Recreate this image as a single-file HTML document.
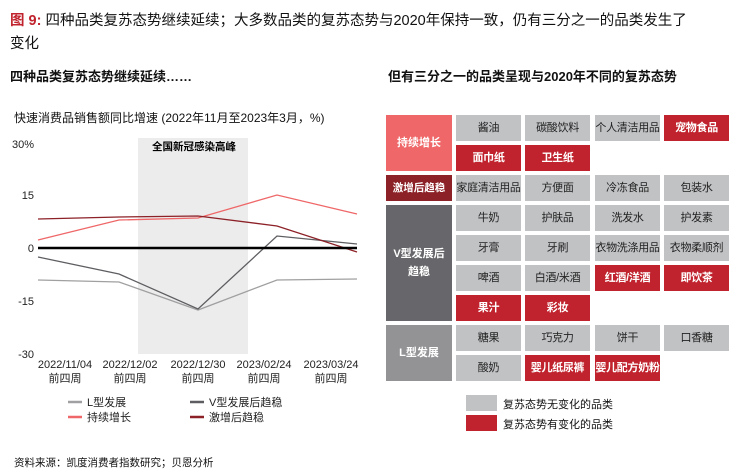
<!DOCTYPE html>
<html><head><meta charset="utf-8"><style>
*{margin:0;padding:0;box-sizing:border-box}
body{width:748px;height:472px;background:#fff;position:relative;overflow:hidden;font-family:"Liberation Sans","Noto Sans CJK SC",sans-serif;color:#111}
.a{position:absolute;white-space:nowrap}
.c{position:absolute;width:65px;height:26px;line-height:26px;text-align:center;font-size:11px;background:#c1c2c4;color:#222;letter-spacing:-0.3px}
.r{background:#c0232d;color:#fff;font-weight:bold}
.k{position:absolute;left:386px;width:66px;color:#fff;font-weight:bold;font-size:11px;display:flex;align-items:center;justify-content:center;text-align:center;line-height:18px}
</style></head><body>
<div class="a" style="left:10px;top:9px;font-size:14.5px"><span style="color:#c0232d;font-weight:bold">图 9:</span> 四种品类复苏态势继续延续；大多数品类的复苏态势与2020年保持一致，仍有三分之一的品类发生了</div>
<div class="a" style="left:10px;top:32px;font-size:14.5px">变化</div>
<div class="a" style="left:10px;top:66px;font-size:13px;font-weight:bold">四种品类复苏态势继续延续……</div>
<div class="a" style="left:388px;top:66px;font-size:13px;font-weight:bold">但有三分之一的品类呈现与2020年不同的复苏态势</div>
<div class="a" style="left:14px;top:109px;font-size:12px">快速消费品销售额同比增速 (2022年11月至2023年3月，%)</div>

<svg class="a" style="left:0;top:0" width="380" height="440" font-family="Liberation Sans, Noto Sans CJK SC, sans-serif">
<rect x="138" y="138" width="110" height="216" fill="#ececec"/>
<text x="194" y="150" font-size="10.5" font-weight="bold" text-anchor="middle">全国新冠感染高峰</text>
<g font-size="11" fill="#222" text-anchor="end">
<text x="34" y="148">30%</text><text x="34" y="199">15</text><text x="34" y="252">0</text><text x="34" y="305">-15</text><text x="34" y="358">-30</text></g>
<g fill="none" stroke-width="1.3">
<polyline points="38,280 119,282 198,310 277,280 357,279" stroke="#a0a0a2"/>
<polyline points="38,257 119,274 198,309 277,236 357,244" stroke="#5e5e62"/>
<polyline points="38,240 119,220 198,218 277,195 357,214" stroke="#ef6768"/>
<polyline points="38,219 119,217 198,216 277,226 357,252" stroke="#8c2127"/>
</g>
<line x1="38" y1="248" x2="357" y2="248" stroke="#000" stroke-width="2.5"/>
<g font-size="11" fill="#222" text-anchor="middle">
<text x="65" y="368">2022/11/04</text><text x="65" y="382">前四周</text>
<text x="130" y="368">2022/12/02</text><text x="130" y="382">前四周</text>
<text x="198" y="368">2022/12/30</text><text x="198" y="382">前四周</text>
<text x="264" y="368">2023/02/24</text><text x="264" y="382">前四周</text>
<text x="331" y="368">2023/03/24</text><text x="331" y="382">前四周</text>
</g>
<g stroke-width="2.5">
<line x1="68" y1="402" x2="82" y2="402" stroke="#a0a0a2"/>
<line x1="190" y1="402" x2="204" y2="402" stroke="#5e5e62"/>
<line x1="68" y1="417" x2="82" y2="417" stroke="#ef6768"/>
<line x1="190" y1="417" x2="204" y2="417" stroke="#8c2127"/>
</g>
<g font-size="11" fill="#222">
<text x="87" y="406">L型发展</text><text x="209" y="406">V型发展后趋稳</text>
<text x="87" y="421">持续增长</text><text x="209" y="421">激增后趋稳</text>
</g>
</svg>

<div class="k" style="top:115px;height:56px;background:#ef6768">持续增长</div>
<div class="k" style="top:175px;height:26px;background:#8c2127;font-size:10.5px">激增后趋稳</div>
<div class="k" style="top:205px;height:116px;background:#67676b">V型发展后<br>趋稳</div>
<div class="k" style="top:325px;height:56px;background:#939396">L型发展</div>

<div class="c" style="left:456px;top:115px">酱油</div>
<div class="c" style="left:525px;top:115px">碳酸饮料</div>
<div class="c" style="left:595px;top:115px">个人清洁用品</div>
<div class="c r" style="left:664px;top:115px">宠物食品</div>
<div class="c r" style="left:456px;top:145px">面巾纸</div>
<div class="c r" style="left:525px;top:145px">卫生纸</div>
<div class="c" style="left:456px;top:175px">家庭清洁用品</div>
<div class="c" style="left:525px;top:175px">方便面</div>
<div class="c" style="left:595px;top:175px">冷冻食品</div>
<div class="c" style="left:664px;top:175px">包装水</div>
<div class="c" style="left:456px;top:205px">牛奶</div>
<div class="c" style="left:525px;top:205px">护肤品</div>
<div class="c" style="left:595px;top:205px">洗发水</div>
<div class="c" style="left:664px;top:205px">护发素</div>
<div class="c" style="left:456px;top:235px">牙膏</div>
<div class="c" style="left:525px;top:235px">牙刷</div>
<div class="c" style="left:595px;top:235px">衣物洗涤用品</div>
<div class="c" style="left:664px;top:235px">衣物柔顺剂</div>
<div class="c" style="left:456px;top:265px">啤酒</div>
<div class="c" style="left:525px;top:265px">白酒/米酒</div>
<div class="c r" style="left:595px;top:265px">红酒/洋酒</div>
<div class="c r" style="left:664px;top:265px">即饮茶</div>
<div class="c r" style="left:456px;top:295px">果汁</div>
<div class="c r" style="left:525px;top:295px">彩妆</div>
<div class="c" style="left:456px;top:325px">糖果</div>
<div class="c" style="left:525px;top:325px">巧克力</div>
<div class="c" style="left:595px;top:325px">饼干</div>
<div class="c" style="left:664px;top:325px">口香糖</div>
<div class="c" style="left:456px;top:355px">酸奶</div>
<div class="c r" style="left:525px;top:355px">婴儿纸尿裤</div>
<div class="c r" style="left:595px;top:355px">婴儿配方奶粉</div>

<div class="a" style="left:466px;top:395px;width:31px;height:16px;background:#c1c2c4"></div>
<div class="a" style="left:466px;top:415px;width:31px;height:16px;background:#c0232d"></div>
<div class="a" style="left:503px;top:396px;font-size:11px">复苏态势无变化的品类</div>
<div class="a" style="left:503px;top:416px;font-size:11px">复苏态势有变化的品类</div>

<div class="a" style="left:14px;top:455px;font-size:10.5px">资料来源：凯度消费者指数研究；贝恩分析</div>
</body></html>
